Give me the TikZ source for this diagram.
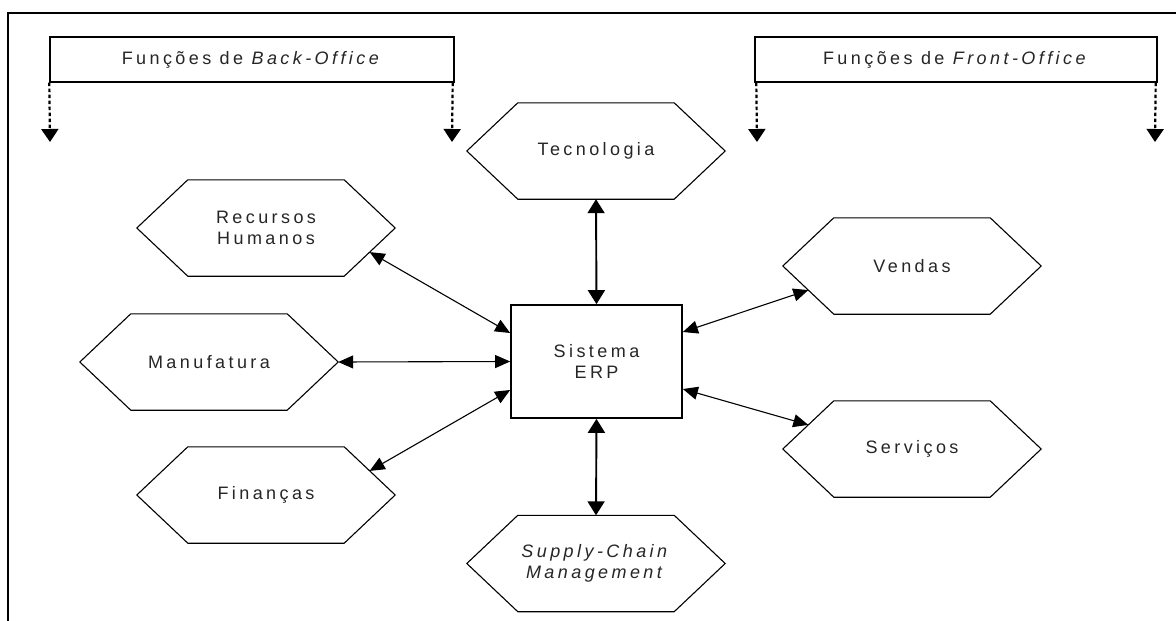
\documentclass[tikz,border=0pt]{standalone}
\usepackage{fontspec}
\setmainfont{Liberation Sans}[LetterSpace=19]
\usetikzlibrary{arrows.meta,calc}

\tikzset{
  x=1pt, y=-1pt,
  lbl/.style={font=\fontsize{18}{21}\selectfont, align=center, text=black!85},
  hexbox/.style={lbl, minimum width=258pt, minimum height=96pt, inner sep=0pt},
  hexline/.style={draw=black, line width=1.1pt, line join=miter},
  headbox/.style={lbl, draw=black, line width=1.4pt, minimum height=45pt, inner sep=0pt},
  erpbox/.style={lbl, draw=black, line width=1.7pt, minimum width=171pt, minimum height=113pt, inner sep=0pt},
  link/.style={line width=1.1pt, {Triangle[length=15pt,width=13pt]}-{Triangle[length=15pt,width=13pt]}},
  vlink/.style={line width=1.9pt, {Triangle[length=14pt,width=17pt]}-{Triangle[length=14pt,width=17pt]}},
  dasharrow/.style={line width=2.2pt, dash pattern=on 3.5pt off 2.5pt, -{Triangle[length=13pt,width=17pt]}},
  frameline/.style={line width=1.6pt}
}

\newcommand{\hexnode}[3]{%
  \node[hexbox] (#1) at (#2) {#3};
  \draw[hexline] (#1.west) -- ([xshift=51pt]#1.north west) -- ([xshift=-51pt]#1.north east)
    -- (#1.east) -- ([xshift=-51pt]#1.south east) -- ([xshift=51pt]#1.south west) -- cycle;
  \coordinate (#1-ne) at ($(#1.east)!0.5!([xshift=-51pt]#1.north east)$);
  \coordinate (#1-se) at ($(#1.east)!0.5!([xshift=-51pt]#1.south east)$);
  \coordinate (#1-nw) at ($(#1.west)!0.5!([xshift=51pt]#1.north west)$);
  \coordinate (#1-sw) at ($(#1.west)!0.5!([xshift=51pt]#1.south west)$);
}

\begin{document}
\begin{tikzpicture}
\useasboundingbox (0,0) rectangle (1176,621);
\fill[white] (0,0) rectangle (1176,621);

% outer frame
\coordinate (f1) at (8,621);
\coordinate (f2) at (8,13);
\coordinate (f3) at (1176,13);
\draw[frameline] (f1) -- (f2) -- (f3);

% header boxes
\node[headbox, minimum width=404pt] (back) at (252,59.5) {Funções de \textit{Back-Office}};
\node[headbox, minimum width=402pt] (front) at (956,59.5) {Funções de \textit{Front-Office}};

\coordinate (b1) at (50,142);
\coordinate (b2) at (452,142);
\coordinate (f4) at (757,142);
\coordinate (f5) at (1155,142);
\draw[dasharrow] (back.south west) -- (b1);
\draw[dasharrow] ([xshift=-2pt]back.south east) -- (b2);
\draw[dasharrow] ([xshift=2pt]front.south west) -- (f4);
\draw[dasharrow] ([xshift=-2pt]front.south east) -- (f5);

% hexagons
\hexnode{tec}{596,151}{Tecnologia}
\hexnode{rh}{266,228}{Recursos\\Humanos}
\hexnode{man}{209,362}{Manufatura}
\hexnode{fin}{266,495}{Finanças}
\hexnode{ven}{912,266}{Vendas}
\hexnode{ser}{912,449}{Serviços}
\hexnode{scm}{596,563.5}{\textit{Supply-Chain}\\\textit{Management}}

% central box
\node[erpbox] (erp) at (596.5,361.5) {Sistema\\ERP};

% connectors
\draw[vlink] (tec.south) -- (erp.north);
\draw[vlink] (erp.south) -- (scm.north);
\draw[link] (rh-se) -- ([yshift=28.5pt]erp.west);
\draw[link] (man.east) -- (erp.west);
\draw[link] (fin-ne) -- ([yshift=-28.5pt]erp.west);
\draw[link] ([yshift=29.5pt]erp.east) -- (ven-sw);
\draw[link] ([yshift=-27.5pt]erp.east) -- (ser-nw);
\end{tikzpicture}
\end{document}
